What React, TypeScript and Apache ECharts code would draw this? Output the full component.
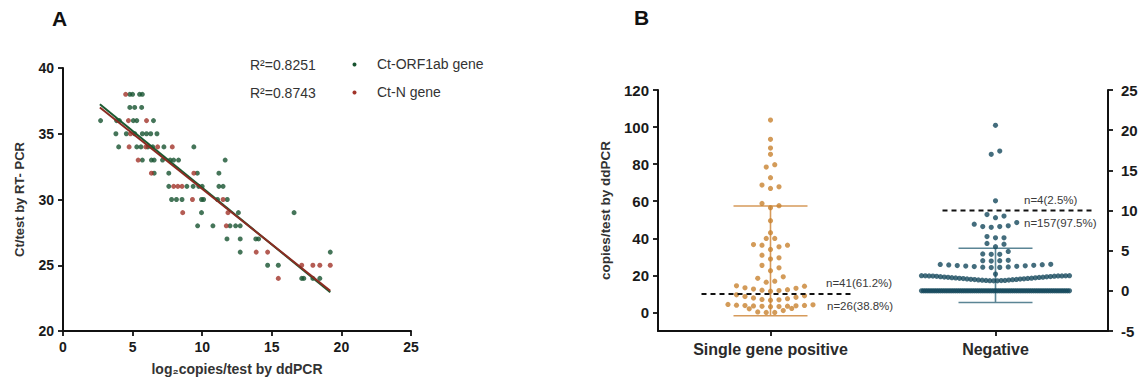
import React, { useEffect, useRef } from "react";
import * as echarts from "echarts";

// ---------- Panel A data ----------
const orfPoints: [number, number][] = [
  [4.8, 38], [5.0, 38], [5.5, 38], [5.7, 38],
  [4.8, 37], [5.15, 37], [5.65, 37],
  [2.7, 36], [3.85, 36], [4.05, 36], [5.05, 36], [5.3, 36], [6.5, 36],
  [3.8, 35], [4.55, 35], [5.15, 35], [5.7, 35], [6.0, 35], [6.3, 35], [6.75, 35],
  [4.0, 34], [5.3, 34], [5.6, 34], [6.1, 34], [6.45, 34], [7.25, 34], [9.4, 34],
  [5.7, 33], [6.35, 33], [6.55, 33], [7.15, 33], [7.7, 33], [7.95, 33], [8.3, 33], [11.65, 33],
  [6.55, 32], [7.6, 32], [9.65, 32], [11.2, 32],
  [7.6, 31], [8.9, 31], [9.35, 31], [9.75, 31], [10.0, 31], [11.2, 31], [11.5, 31],
  [7.8, 30], [8.15, 30], [8.55, 30], [9.95, 30], [10.1, 30], [11.1, 30], [11.8, 30],
  [9.95, 29], [12.6, 29], [16.6, 29],
  [9.67, 28], [10.77, 28], [12.0, 28], [12.4, 28], [12.73, 28],
  [11.78, 27], [12.73, 27], [13.85, 27], [14.05, 27],
  [12.73, 26], [19.2, 26],
  [14.7, 25], [15.47, 25],
  [17.15, 24], [17.3, 24], [17.95, 24], [18.45, 24],
];
const nPoints: [number, number][] = [
  [4.5, 38],
  [4.7, 36], [6.0, 36],
  [4.85, 35],
  [4.75, 34], [5.95, 34], [6.8, 34], [7.85, 34],
  [5.4, 33],
  [6.35, 32], [9.4, 32],
  [7.95, 31], [8.25, 31], [8.55, 31],
  [9.3, 30], [11.5, 30],
  [8.6, 29], [11.85, 29],
  [11.73, 28],
  [13.88, 26], [14.7, 26],
  [17.15, 25], [17.95, 25], [18.45, 25], [19.2, 25],
  [15.47, 24],
];
const orfFit: [number, number][] = [[2.65, 37.25], [19.2, 22.95]];
const nFit: [number, number][] = [[2.65, 37.0], [19.2, 23.05]];
const legendA = [
  { r2: "R²=0.8251", name: "Ct-ORF1ab gene" },
  { r2: "R²=0.8743", name: "Ct-N gene" },
];

// ---------- Panel B data ----------
const categoriesB = ["Single gene positive", "Negative"];
const singlePositive: number[] = [
  103.8, 93.4, 88.7, 85.3, 79.7, 78.4, 72.7, 68.7, 67.8, 66.9,
  58.8, 57.6, 56.5, 49.5, 43.0, 39.9, 39.9,
  36.6, 36.3, 36.3, 35.4, 34.0,
  30.9, 29.5, 28.8, 25.4, 24.1, 22.5,
  19.2, 18.4, 16.9, 16.3,
  14.4, 14.2, 13.3, 13.0, 12.6, 12.3, 12.0, 11.8, 11.5,
  9.5, 9.0, 8.6, 8.2, 7.8, 7.4, 7.0, 6.8, 6.6,
  4.3, 4.1, 3.9, 3.8, 3.7, 3.6, 3.5, 3.4, 3.3, 3.2, 3.1,
  2.2, 2.0, 1.0, 0.3, 0, 0,
];
const negative: number[] = [
  20.6, 17.4, 17.0, 11.2,
  9.5, 9.3, 9.1,
  8.5, 8.3, 8.1, 8.0, 8.0, 7.9,
  6.75, 6.6, 6.6,
  5.9, 5.8, 5.5,
  4.9, 4.6, 4.55, 4.55,
  3.8, 3.75, 3.75, 3.7,
  3.30, 3.28, 3.25, 3.22, 3.18, 3.15, 3.12, 3.08, 3.05, 3.02, 2.98, 2.95, 2.92, 2.90,
  2.08,
  1.88, 1.88, 1.87, 1.87, 1.86, 1.86, 1.85, 1.84, 1.82, 1.80,
  1.78, 1.76, 1.74, 1.72, 1.70, 1.68, 1.66, 1.64, 1.62, 1.60,
  1.58, 1.56, 1.54, 1.52, 1.50, 1.48, 1.46, 1.44, 1.42, 1.40,
  1.38, 1.36, 1.34, 1.32, 1.30, 1.29, 1.28, 1.27, 1.25, 1.24,
  0, 0, 0, 0, 0, 0, 0, 0, 0, 0, 0, 0, 0, 0, 0, 0, 0, 0, 0, 0,
  0, 0, 0, 0, 0, 0, 0, 0, 0, 0, 0, 0, 0, 0, 0, 0, 0, 0, 0, 0,
  0, 0, 0, 0, 0, 0, 0, 0, 0, 0, 0, 0, 0, 0, 0, 0, 0, 0, 0, 0,
  0, 0, 0, 0, 0, 0, 0, 0, 0, 0, 0, 0, 0, 0, 0, 0, 0, 0, 0,
];
const sdLow = [-1.8, -1.45];
const sdHigh = [57.4, 5.3];
const cutoff = [10, 10];
const countLabels = [
  ["n=41(61.2%)", "n=26(38.8%)"],
  ["n=4(2.5%)", "n=157(97.5%)"],
];
const leftTicksB = [0, 20, 40, 60, 80, 100, 120];

// ---------- layout ----------
const FONT = "Liberation Sans, Arial, Helvetica, sans-serif";
const TXT = "#1a1a1a";
const GREEN = "#17532f";
const RED = "#a13329";
const ORANGE = "#c8822f";
const TEAL = "#15495c";
const gA = { left: 63, top: 68, width: 348, height: 263 };
const gB = { left: 658, top: 90, width: 450, height: 241 };
const catPos = [1, 3];
const xMaxB = 4;
const leftRange = [-10, 120];
const rightRange = [-5, 25];
const pxPerX = gB.width / xMaxB;
const pxPerLeft = gB.height / (leftRange[1] - leftRange[0]);
const pxPerRight = gB.height / (rightRange[1] - rightRange[0]);

function swarm(values: number[], center: number, pxPerY: number): [number, number][] {
  const rowPx = 5.6, slotPx = 8.5, maxHalfPx = 74;
  const t = rowPx / pxPerY;
  const sorted = [...values].sort((a, b) => a - b);
  const out: [number, number][] = [];
  let i = 0;
  while (i < sorted.length) {
    const first = sorted[i];
    const row: number[] = [];
    while (i < sorted.length && sorted[i] < first + t) { row.push(sorted[i]); i++; }
    const m = row.length;
    const gap = m > 1 ? Math.min(slotPx, (2 * maxHalfPx) / (m - 1)) : 0;
    row.forEach((v, k) => {
      let slot: number;
      if (m % 2 === 1) slot = k === 0 ? 0 : k % 2 === 1 ? (k + 1) / 2 : -k / 2;
      else { const j = Math.floor(k / 2) + 0.5; slot = k % 2 === 0 ? -j : j; }
      out.push([center + (slot * gap) / pxPerX, v]);
    });
  }
  return out;
}

const axisLineStyle = { color: "#111", width: 2 };
const tickStyle = { color: "#111", width: 1.8 };

export default function App() {
  const ref = useRef<HTMLDivElement>(null);
  useEffect(() => {
    if (!ref.current) return;
    const chart = echarts.init(ref.current, undefined, { renderer: "svg" });

    const orangeDots = swarm(singlePositive, catPos[0], pxPerLeft);
    const tealDots = swarm(negative, catPos[1], pxPerRight);
    const capHalf = 37;
    const dashExt = [[-69, 84], [-53, 99]];

    const errRender = (params: any, api: any) => {
      const x = api.value(0);
      const top = api.coord([x, api.value(2)]);
      const bot = api.coord([x, api.value(1)]);
      const style = { stroke: api.visual("color"), lineWidth: 1.6 };
      return {
        type: "group",
        children: [
          { type: "line", shape: { x1: top[0], y1: top[1], x2: bot[0], y2: bot[1] }, style },
          { type: "line", shape: { x1: top[0] - capHalf, y1: top[1], x2: top[0] + capHalf, y2: top[1] }, style },
          { type: "line", shape: { x1: bot[0] - capHalf, y1: bot[1], x2: bot[0] + capHalf, y2: bot[1] }, style },
        ],
      };
    };

    const commonAxis = {
      axisLine: { show: true, onZero: false, lineStyle: axisLineStyle },
      axisTick: { show: true, length: 5, lineStyle: tickStyle },
      splitLine: { show: false },
    };

    const txt = (x: number, y: number, text: string, size: number, fill: string, extra: any = {}) => ({
      type: "text", x, y,
      style: { text, fontSize: size, fill, align: "left", verticalAlign: "middle", fontFamily: FONT, ...extra },
    });

    const option: any = {
      animation: false,
      textStyle: { fontFamily: FONT },
      grid: [
        { ...gA, containLabel: false },
        { ...gB, containLabel: false },
      ],
      xAxis: [
        {
          ...commonAxis, type: "value", gridIndex: 0, min: 0, max: 25, interval: 5,
          axisLabel: { fontSize: 14, fontWeight: "bold", color: TXT, margin: 9, fontFamily: FONT },
          name: "log₂copies/test by ddPCR", nameLocation: "middle", nameGap: 31,
          nameTextStyle: { fontSize: 14, fontWeight: "bold", color: "#333", fontFamily: FONT },
        },
        {
          ...commonAxis, type: "value", gridIndex: 1, min: 0, max: xMaxB,
          axisTick: { show: true, length: 5, lineStyle: tickStyle, customValues: catPos },
          axisLabel: {
            fontSize: 16, fontWeight: "bold", color: "#2a2a2a", margin: 10, fontFamily: FONT,
            customValues: catPos, formatter: (v: number) => categoriesB[catPos.indexOf(v)] ?? "",
          },
        },
      ],
      yAxis: [
        {
          ...commonAxis, type: "value", gridIndex: 0, min: 20, max: 40, interval: 5,
          axisLabel: { fontSize: 14, fontWeight: "bold", color: TXT, margin: 9, fontFamily: FONT },
          name: "Ct/test by RT- PCR", nameLocation: "middle", nameGap: 37,
          nameTextStyle: { fontSize: 13, fontWeight: "bold", color: "#333", fontFamily: FONT },
        },
        {
          ...commonAxis, type: "value", gridIndex: 1, min: leftRange[0], max: leftRange[1], position: "left",
          axisTick: { show: true, length: 5, lineStyle: tickStyle, customValues: leftTicksB },
          axisLabel: { fontSize: 15, fontWeight: "bold", color: TXT, margin: 9, fontFamily: FONT, customValues: leftTicksB },
          name: "copies/test by ddPCR", nameLocation: "middle", nameGap: 46,
          nameTextStyle: { fontSize: 13.5, fontWeight: "bold", color: "#333", fontFamily: FONT },
        },
        {
          ...commonAxis, type: "value", gridIndex: 1, min: rightRange[0], max: rightRange[1], interval: 5, position: "right",
          axisLabel: { fontSize: 15, fontWeight: "bold", color: TXT, margin: 13, fontFamily: FONT },
        },
      ],
      series: [
        { type: "scatter", xAxisIndex: 0, yAxisIndex: 0, data: orfPoints, symbolSize: 5, itemStyle: { color: GREEN } },
        { type: "scatter", xAxisIndex: 0, yAxisIndex: 0, data: nPoints, symbolSize: 5, itemStyle: { color: RED } },
        { type: "line", xAxisIndex: 0, yAxisIndex: 0, data: orfFit, symbol: "none", lineStyle: { color: "#1b5a31", width: 2 } },
        { type: "line", xAxisIndex: 0, yAxisIndex: 0, data: nFit, symbol: "none", lineStyle: { color: "#8a2c22", width: 2 } },
        {
          type: "custom", xAxisIndex: 1, yAxisIndex: 1, renderItem: errRender,
          itemStyle: { color: "#d69a5a" }, data: [[catPos[0], sdLow[0], sdHigh[0]]], z: 1,
        },
        {
          type: "custom", xAxisIndex: 1, yAxisIndex: 2, renderItem: errRender,
          itemStyle: { color: "#5b8595" }, data: [[catPos[1], sdLow[1], sdHigh[1]]], z: 1,
        },
        { type: "scatter", xAxisIndex: 1, yAxisIndex: 1, data: orangeDots, symbolSize: 5.2, itemStyle: { color: ORANGE }, z: 2 },
        { type: "scatter", xAxisIndex: 1, yAxisIndex: 2, data: tealDots, symbolSize: 5.2, itemStyle: { color: TEAL }, z: 2 },
        {
          type: "line", xAxisIndex: 1, yAxisIndex: 1, symbol: "none", z: 3,
          data: [[catPos[0] + dashExt[0][0] / pxPerX, cutoff[0]], [catPos[0] + dashExt[0][1] / pxPerX, cutoff[0]]],
          lineStyle: { color: "#111", width: 2, type: [5, 4] },
        },
        {
          type: "line", xAxisIndex: 1, yAxisIndex: 2, symbol: "none", z: 3,
          data: [[catPos[1] + dashExt[1][0] / pxPerX, cutoff[1]], [catPos[1] + dashExt[1][1] / pxPerX, cutoff[1]]],
          lineStyle: { color: "#111", width: 2, type: [5, 4] },
        },
      ],
      graphic: [
        txt(52, 18, "A", 21, "#111", { fontWeight: "bold" }),
        txt(634, 17, "B", 21, "#111", { fontWeight: "bold" }),
        ...legendA.flatMap((l, i) => [
          txt(250, 65 + i * 28, l.r2, 14, "#333"),
          { type: "circle", shape: { cx: 354.5, cy: 64.5 + i * 28, r: 2 }, style: { fill: i === 0 ? GREEN : RED } },
          txt(377, 64 + i * 28, l.name, 14, "#333"),
        ]),
        txt(826, 283, countLabels[0][0], 11.5, "#3a3a3a"),
        txt(827, 306, countLabels[0][1], 11.5, "#3a3a3a"),
        txt(1024, 200, countLabels[1][0], 11.5, "#3a3a3a"),
        txt(1024, 223, countLabels[1][1], 11.5, "#3a3a3a"),
      ],
    };
    chart.setOption(option);
    return () => chart.dispose();
  }, []);
  return <div ref={ref} style={{ width: 1148, height: 385, position: "absolute", left: 0, top: 0 }} />;
}
